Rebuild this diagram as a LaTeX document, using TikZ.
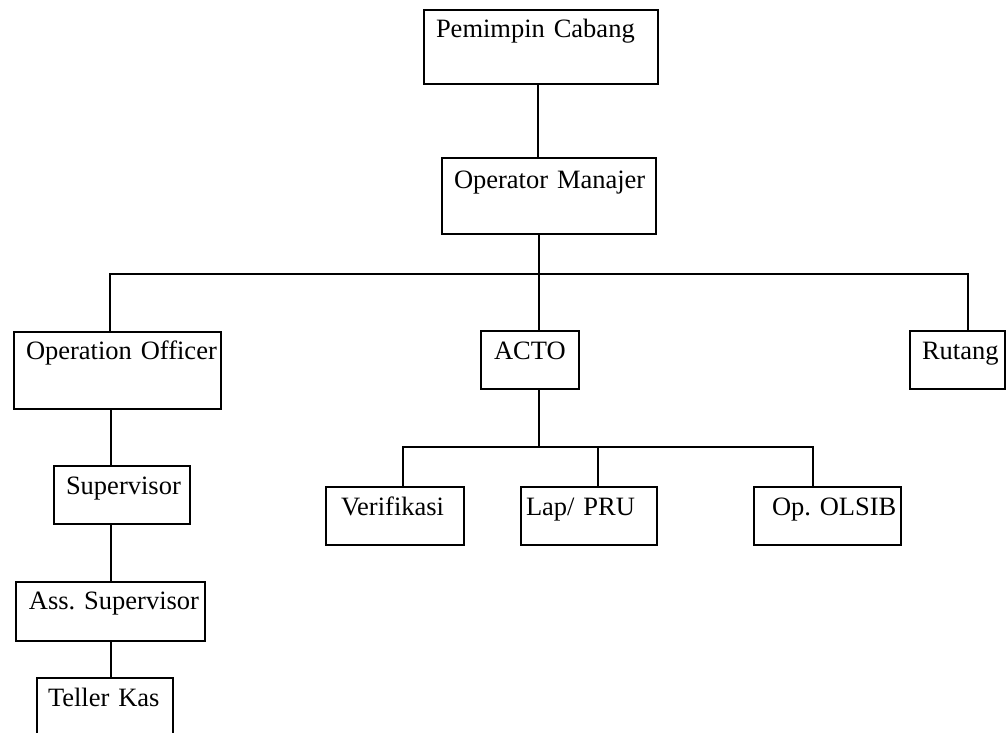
\documentclass[tikz,border=0pt]{standalone}
\usepackage{fontspec}
\setmainfont{Liberation Serif}
\frenchspacing
\begin{document}
\begin{tikzpicture}[x=1pt,y=-1pt,
  box/.style={draw, line width=2pt, inner xsep=0pt, inner ysep=0pt, anchor=north west, align=left,
    font=\fontsize{26.5}{30}\selectfont},
  conn/.style={line width=2.2pt}]
\useasboundingbox (0,0) rectangle (1006,733);
\clip (0,0) rectangle (1006,733);
% boxes
\node[box, text width=234pt, text height=28pt, text depth=46pt] (pc) at (423,9) {\hspace*{12pt}\mbox{Pemimpin Cabang}};
\node[box, text width=214pt, text height=30pt, text depth=46pt] (om) at (441,157) {\hspace*{12pt}\mbox{Operator Manajer}};
\node[box, text width=207pt, text height=27pt, text depth=50pt] (oo) at (13,331) {\hspace*{12pt}\mbox{Operation Officer}};
\node[box, text width=136pt, text height=28pt, text depth=30pt] (sv) at (53,465) {\hspace*{12pt}\mbox{Supervisor}};
\node[box, text width=189pt, text height=27pt, text depth=32pt] (as) at (15,581) {\hspace*{13pt}\mbox{Ass. Supervisor}};
\node[box, text width=136pt, text height=28pt, text depth=60pt] (tk) at (36,677) {\hspace*{11pt}\mbox{Teller Kas}};
\node[box, text width=98pt, text height=28pt, text depth=30pt] (acto) at (480,330) {\hspace*{13pt}\mbox{ACTO}};
\node[box, text width=95pt, text height=28pt, text depth=30pt] (rt) at (909,330) {\hspace*{12pt}\mbox{Rutang}};
\node[box, text width=138pt, text height=28pt, text depth=30pt] (vf) at (325,486) {\hspace*{15pt}\mbox{Verifikasi}};
\node[box, text width=136pt, text height=28pt, text depth=30pt] (lp) at (520,486) {\hspace*{5pt}\mbox{Lap/ PRU}};
\node[box, text width=147pt, text height=28pt, text depth=30pt] (ol) at (753,486) {\hspace*{18pt}\mbox{Op. OLSIB}};
% coordinates
\coordinate (trunk) at (538,0);
\coordinate (busL) at (110,274);
\coordinate (busM) at (539,274);
\coordinate (busR) at (968,274);
\coordinate (colL) at (111,0);
\coordinate (sbL) at (403,447);
\coordinate (sbC) at (539,447);
\coordinate (sbM) at (598,447);
\coordinate (sbR) at (813,447);
% connectors
\draw[conn] (pc.south -| trunk) -- (om.north -| trunk);
\draw[conn] (om.south -| busM) -- (busM);
\draw[conn] (oo.north -| busL) -- (busL) -- (busR) -- (rt.north -| busR);
\draw[conn] (busM) -- (acto.north -| busM);
\draw[conn] (oo.south -| colL) -- (sv.north -| colL);
\draw[conn] (sv.south -| colL) -- (as.north -| colL);
\draw[conn] (as.south -| colL) -- (tk.north -| colL);
\draw[conn] (acto.south -| sbC) -- (sbC);
\draw[conn] (vf.north -| sbL) -- (sbL) -- (sbR) -- (ol.north -| sbR);
\draw[conn] (sbM) -- (lp.north -| sbM);
\end{tikzpicture}
\end{document}
